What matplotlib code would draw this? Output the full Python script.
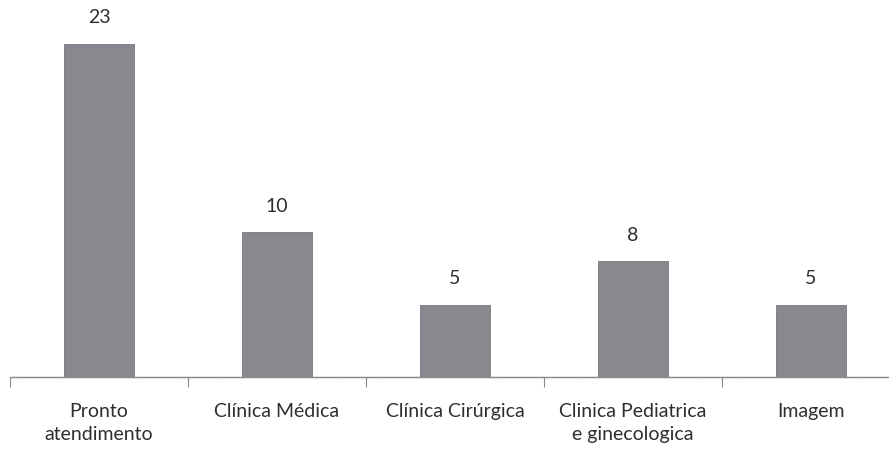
import numpy as np
import matplotlib.pyplot as plt

categories = ["Pronto\natendimento", "Clínica Médica", "Clínica Cirúrgica",
              "Clinica Pediatrica\ne ginecologica", "Imagem"]
values = [23, 10, 5, 8, 5]

plt.rcParams['font.family'] = ['Lato', 'DejaVu Sans']

fig = plt.figure(figsize=(8.89, 4.52), dpi=100)
ax = fig.add_axes([10 / 889, 74 / 452, 890 / 889, 378 / 452])

x = np.arange(len(categories))
bars = ax.bar(x, values, width=0.39, color='#88888f', edgecolor='#76767c', linewidth=0.6)

for xi, v in zip(x, values):
    ax.annotate(str(v), (xi, v), xytext=(0, 13), textcoords='offset points',
                ha='center', va='bottom', fontsize=14, color='#2e2e2e')

ax.set_xlim(-0.5, 4.5)
ax.set_ylim(0, 378 / 14.5)

for side in ['top', 'right', 'left']:
    ax.spines[side].set_visible(False)
ax.spines['bottom'].set_color('#8a8a8a')
ax.spines['bottom'].set_linestyle((0, (1, 0.6)))
ax.spines['bottom'].set_linewidth(1.0)

ax.set_yticks([])
ax.set_xticks(x)
ax.set_xticklabels(categories, fontsize=14, color='#2e2e2e', linespacing=1.45)
ax.tick_params(axis='x', which='major', length=0, pad=18)
ax.set_xticks(np.arange(-0.5, 5, 1), minor=True)
ax.tick_params(axis='x', which='minor', length=7, color='#8a8a8a', width=0.8)

fig.savefig('out.png', dpi=100)
